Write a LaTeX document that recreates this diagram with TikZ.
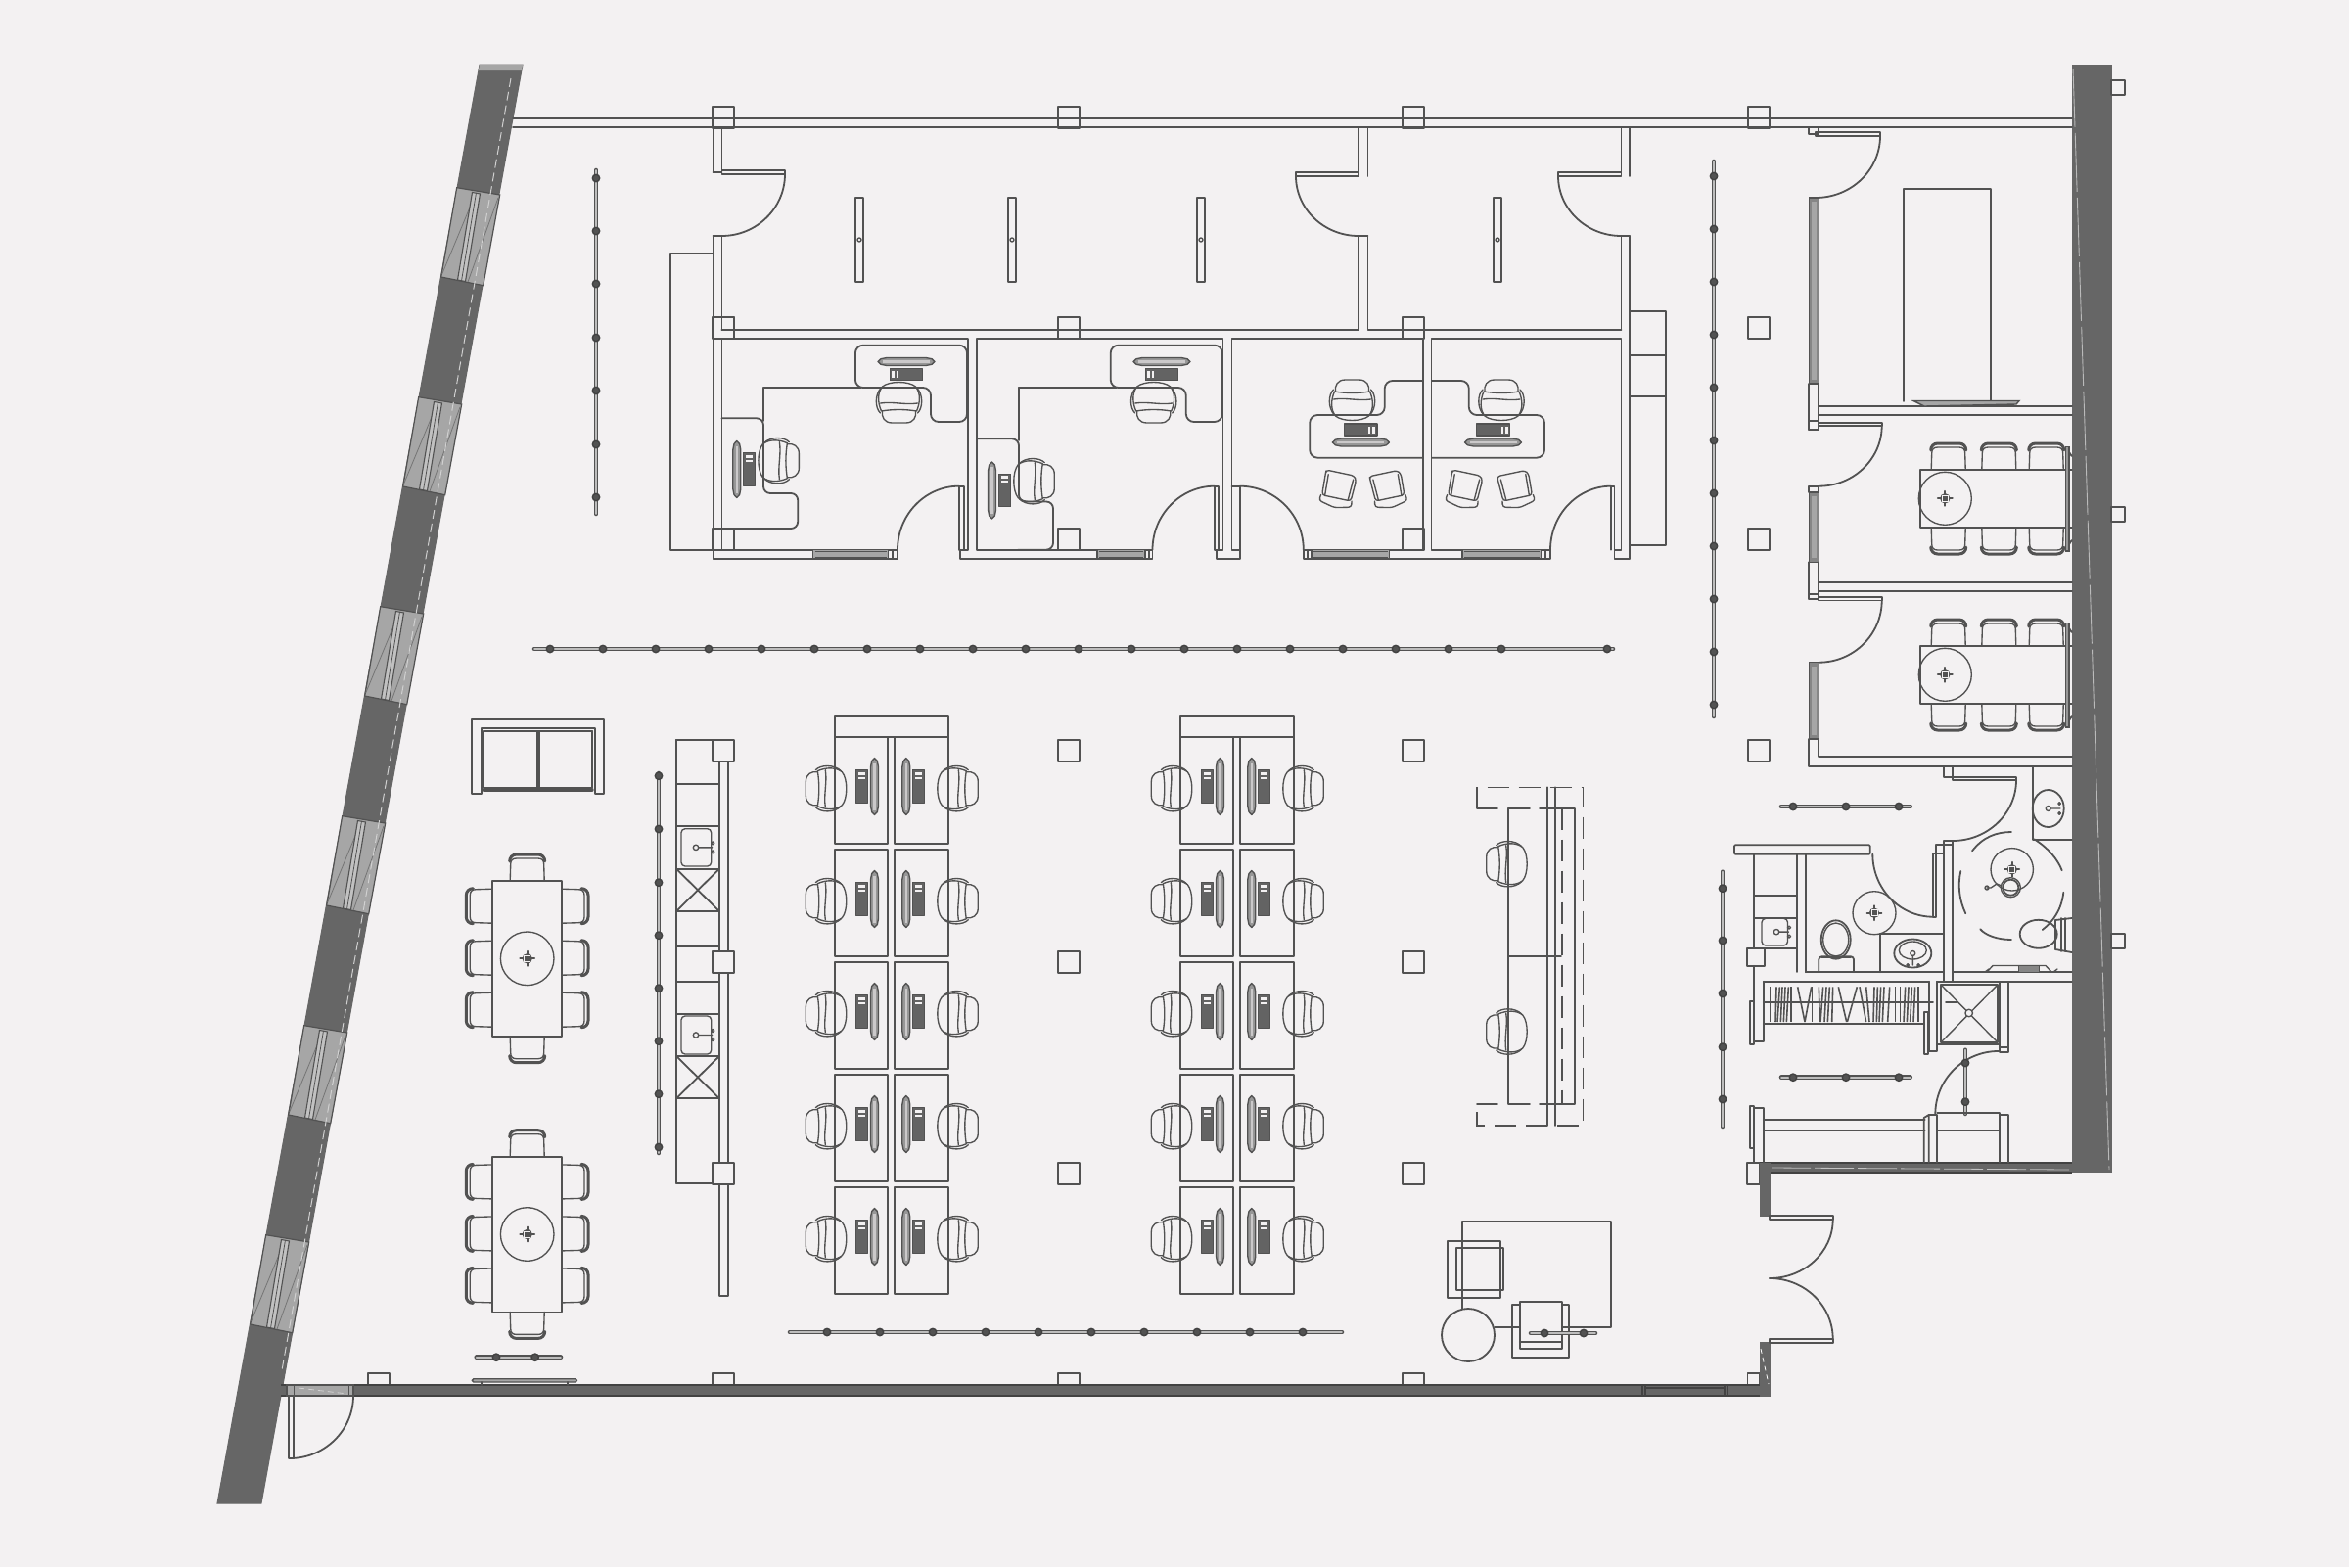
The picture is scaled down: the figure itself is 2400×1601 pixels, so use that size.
\documentclass[tikz,border=0pt]{standalone}
\definecolor{bgc}{HTML}{F3F1F2}
\definecolor{lnc}{HTML}{525252}
\definecolor{wallc}{HTML}{666666}
\definecolor{glassc}{HTML}{A6A6A6}
\definecolor{trackc}{HTML}{BDBDBD}
\tikzset{
  l/.style={draw=lnc,line width=1.8pt,line join=round,line cap=round},
  lt/.style={draw=lnc,line width=1.35pt,line join=round,line cap=round},
  hvy/.style={draw=lnc,line width=3.2pt,line cap=round},
  wallf/.style={fill=wallc,draw=wallc,line width=1pt},
  glass/.style={fill=glassc,draw=lnc,line width=1.2pt},
  gap/.style={draw=white!70!wallc,line width=1pt,dash pattern=on 9pt off 5pt}
}
\newcommand{\arcV}[4]{\draw[l] (#1,#2) .. controls (#1,{#2+.55*(#4-#2)}) and ({#3+.55*(#1-#3)},#4) .. (#3,#4);}
\newcommand{\ofchair}[3]{\begin{scope}[shift={(#1,#2)},rotate=#3]
  \draw[lt] (-9,-17) .. controls (-15,-18) and (-21,-15) .. (-21,-7) -- (-21,7) .. controls (-21,15) and (-15,18) .. (-9,17);
  \draw[lt] (-9,-18) .. controls (0,-22) and (10,-22) .. (16,-17) .. controls (22,-10) and (22,10) .. (16,17) .. controls (10,22) and (0,22) .. (-9,18) .. controls (-7,6) and (-7,-6) .. cycle;
  \draw[lt] (-1,-19) .. controls (1,-6) and (-3,6) .. (-1,19);
  \draw[lt] (-11,-19) .. controls (-6,-24.5) and (8,-25) .. (15,-18);
  \draw[lt] (-11,19) .. controls (-6,24.5) and (8,25) .. (15,18);
\end{scope}}
\newcommand{\wkst}[3]{\begin{scope}[shift={(#1,#2)},#3]
  \draw[lt,fill=lnc!60] (0,-29) -- (2.8,-26) -- (4,-20) -- (4,20) -- (2.8,26) -- (0,29) -- (-2.8,26) -- (-4,20) -- (-4,-20) -- (-2.8,-26) -- cycle;
  \fill[bgc!75!lnc] (-1.2,-24) rectangle (1.2,24);
  \draw[lt,fill=lnc!90] (-19,-16.7) rectangle (-7,16.7);
  \fill[bgc] (-16.5,-15) rectangle (-9.5,-12);
  \fill[bgc] (-16.5,-10) rectangle (-9.5,-8);
\end{scope}}
\newcommand{\dchair}[3]{\begin{scope}[shift={(#1,#2)},rotate=#3]
  \draw[lt] (0,-17.5) -- (17,-17) .. controls (21,-17) and (23,-15) .. (23,-11) -- (23,11) .. controls (23,15) and (21,17) .. (17,17) -- (0,17.5);
  \draw[draw=lnc,line width=3pt,line cap=round] (20,-18) .. controls (24,-18) and (27,-15) .. (27,-11) -- (27,11) .. controls (27,15) and (24,18) .. (20,18);
\end{scope}}
\newcommand{\gchair}[3]{\begin{scope}[shift={(#1,#2)},rotate=#3]
  \draw[lt,rounded corners=3] (-16,-18) -- (13,-18) -- (16,-14) -- (15,8) -- (-15,8) -- (-16,-14) -- cycle;
  \draw[lt] (-13,-14) -- (-12,8) (13,-14) -- (12,8);
  \draw[lt,rounded corners=3] (-16,8) -- (-17,14) -- (0,18) -- (17,14) -- (16,8);
\end{scope}}
\newcommand{\lamp}[3]{\begin{scope}[shift={(#1,#2)}]
  \draw[lt] (0,0) circle [radius=#3];
  \fill[lnc] (0,0) circle [radius=5.2];
  \draw[l] (-7.5,0) -- (7.5,0) (0,-7.5) -- (0,7.5);
  \draw[draw=bgc,line width=.7pt] (-3,-3) rectangle (3,3);
\end{scope}}
\newcommand{\trackdot}[2]{\draw[draw=lnc!80!black,fill=lnc,line width=1.4pt] (#1,#2) circle [radius=3.7];}
\newcommand{\htrack}[4]{\draw[draw=lnc,line width=4.6pt,line cap=round] (#2,#1) -- (#3,#1);
  \draw[draw=trackc,line width=1.8pt,line cap=round] (#2,#1) -- (#3,#1);
  \foreach \q in {#4} {\trackdot{\q}{#1}}}
\newcommand{\vtrack}[4]{\draw[draw=lnc,line width=4.6pt,line cap=round] (#1,#2) -- (#1,#3);
  \draw[draw=trackc,line width=1.8pt,line cap=round] (#1,#2) -- (#1,#3);
  \foreach \q in {#4} {\trackdot{#1}{\q}}}
\newcommand{\ksink}[4]{\draw[lt,rounded corners=4] (#1,#2) rectangle (#3,#4);
  \draw[lt] ({#1+15},{(#2+#4)/2}) circle [radius=2.7] ({#1+18},{(#2+#4)/2}) -- ({#3+1},{(#2+#4)/2});
  \draw[lt] ({#3+1.5},{(#2+#4)/2-4.5}) circle [radius=1.6] ({#3+1.5},{(#2+#4)/2+4.5}) circle [radius=1.6];}
\newcommand{\glasspart}[1]{\draw[l] (#1,202) rectangle ({#1+8},288);
  \draw[lt,fill=bgc] ({#1+4},245) circle [radius=2];}
\begin{document}
\begin{tikzpicture}[x=1pt,y=-1pt]
\useasboundingbox (0,0) rectangle (2400,1601);
\fill[bgc] (0,0) rectangle (2400,1601);

% ---- columns
\foreach \cx/\cy in {739/119.7,1092/119.7,1444/119.7,1797/119.7,1092/335,1444/335,1797/335,739/335,739/551,1092/551,1444/551,1797/551,1092/767,1444/767,1092/983,1444/983,1092/1199,1444/1199}
  \draw[l] ({\cx-11},{\cy-11}) rectangle ({\cx+11},{\cy+11});
\draw[l] (1786,756) rectangle (1808,778);
\draw[l] (375.7,1403) rectangle (397.7,1425);
\foreach \cx in {739,1092,1444}
  \draw[l] ({\cx-11},1403) rectangle ({\cx+11},1425);
\draw[l] (1785.5,1403) rectangle (1798,1425);
\draw[l] (1785,1188) rectangle (1798,1210);

% ---- outer walls
\draw[wallf] (490,66) -- (534,66) -- (267,1536) -- (222,1536) -- cycle;
\fill[glassc] (490,66) -- (534,66) -- (533,72) -- (489,72) -- cycle;
\foreach \k in {0,...,5} {
  \begin{scope}[shift={({39*\k},{-214*\k})}]
  \draw[glass] (271.7,1261.7) -- (315.7,1269) -- (298.7,1361.7) -- (255.7,1353) -- cycle;
  \draw[draw=lnc!80,line width=.8pt] (256.7,1350) -- (290,1270) (314,1272) -- (283,1358);
  \draw[draw=lnc,line width=1.1pt,fill=glassc!70!white] (287.5,1266.5) -- (295.5,1268) -- (280.5,1357.5) -- (272.5,1356) -- cycle;
  \draw[draw=lnc,line width=.8pt] (291.5,1267) -- (276.5,1357);
  \end{scope}
}
\draw[gap] (522,80) -- (288,1400);

\draw[wallf] (2117,66) rectangle (2157,1197.7);
\draw[draw=white!55!wallc,line width=.9pt,dash pattern=on 60pt off 6pt] (2118,70) -- (2155,1195);
\foreach \wy in {82,518,954}
  \draw[l] (2157,\wy) rectangle (2171,{\wy+15});

% south wall
\fill[wallc] (287,1415) rectangle (1808,1426);
\draw[draw=lnc!80!black,line width=1.8pt] (287,1415) -- (1798,1415) (287,1426) -- (1808,1426);
\draw[glass] (293,1415) rectangle (361,1426);
\draw[draw=lnc,line width=1pt] (300,1415) -- (300,1426) (356,1415) -- (356,1426);
\draw[draw=white!70!wallc,line width=.8pt,dash pattern=on 6pt off 4pt] (305,1418) -- (355,1424);
\draw[draw=lnc!80!black,line width=1.2pt] (1678,1415) -- (1678,1426) (1681,1415) -- (1681,1426) (1762,1415) -- (1762,1426) (1765,1415) -- (1765,1426);
\draw[draw=lnc!80!black,line width=1.2pt] (1681,1418) -- (1762,1418);
\draw[wallf] (1798,1371.7) rectangle (1808,1426);
\draw[draw=white,line width=.8pt,dash pattern=on 5pt off 4pt] (1799,1378) -- (1807,1414);
\fill[wallc] (1798,1188) rectangle (2117,1197.7);
\draw[draw=lnc!80!black,line width=1.6pt] (1798,1188) -- (2117,1188) (1798,1197.7) -- (2117,1197.7);
\draw[draw=white!60!wallc,line width=.8pt,dash pattern=on 40pt off 4pt] (1810,1193) -- (2117,1195);
\draw[wallf] (1798,1188) rectangle (1808,1242);

% south door
\draw[l] (295,1426) rectangle (300,1490);
\arcV{361}{1426}{296}{1490}

% entrance
\draw[l] (1808,1242) rectangle (1872.7,1246);
\draw[l] (1808,1368) rectangle (1872.7,1371.7);
\arcV{1872.7}{1246}{1808}{1306}
\arcV{1872.7}{1368}{1808}{1306}

% north glazing line
\draw[l] (524,121) -- (2117,121) (524,130) -- (2117,130);

% ---- upper rooms
\draw[l] (728.5,130) -- (728.5,176) (737.4,130) -- (737.4,174);
\draw[l] (728.5,241) -- (728.5,346) (737.4,241) -- (737.4,336.7);
\draw[l] (737.4,174) rectangle (802,178);
\draw[l] (728.5,176) -- (737.4,176);
\arcV{802}{178}{737.4}{241}
\draw[l] (728.5,241) -- (737.4,241);
\draw[l] (1388,130) -- (1388,176) (1397.5,130) -- (1397.5,180);
\draw[l] (1324,176) rectangle (1388,180);
\arcV{1324}{180}{1388}{241}
\draw[l] (1388,241) -- (1388,336.7) -- (737.4,336.7);
\draw[l] (1397.5,241) -- (1397.5,336.7) -- (1656.4,336.7);
\draw[l] (1388,241) -- (1397.5,241);
\draw[l] (1656.4,130) -- (1656.4,176) (1665,130) -- (1665,180);
\draw[l] (1592,176) rectangle (1656.4,180);
\arcV{1592}{180}{1656.4}{241}
\draw[l] (1656.4,241) -- (1656.4,336.7) (1665,241) -- (1665,570.7);
\draw[l] (1656.4,241) -- (1665,241);
\glasspart{874}
\glasspart{1030}
\glasspart{1223}
\glasspart{1526}

% storage left & right
\draw[l] (728.5,259) -- (684.7,259) -- (684.7,561.7) -- (728.5,561.7);
\draw[l] (1665,318) -- (1702,318) -- (1702,556.7) -- (1665,556.7) (1665,362.7) -- (1702,362.7) (1665,405) -- (1702,405);

% ---- offices
\draw[l] (728.5,346) -- (728.5,570.7) -- (917,570.7) -- (917,561.7) -- (737.4,561.7) -- (737.4,346) -- (989.3,346) -- (989.3,561.7) -- (979.7,561.7) -- (979.7,496.7) -- (985,496.7) -- (985,561.7);
\draw[l] (728.5,346) -- (737.4,346);
\draw[l] (981,561.7) -- (981,570.7) -- (1177.5,570.7) -- (1177.5,561.7) -- (998.2,561.7) -- (998.2,346) -- (1249.5,346) -- (1249.5,561.7) -- (1241,561.7) -- (1241,496.7) -- (1245,496.7) -- (1245,561.7);
\draw[l] (1243,561.7) -- (1243,570.7) -- (1266.7,570.7) -- (1266.7,496.7) -- (1258.5,496.7);
\draw[l] (1266.7,561.7) -- (1258.5,561.7) -- (1258.5,346) -- (1453.6,346) -- (1453.6,561.7) -- (1331.8,561.7) -- (1331.8,570.7) -- (1584,570.7) -- (1584,561.7) -- (1462.5,561.7) -- (1462.5,346) -- (1656.4,346) -- (1656.4,561.7) -- (1649.4,561.7) -- (1649.4,570.7) -- (1665,570.7);
\draw[l] (1649.4,561.7) -- (1649.4,496.7) -- (1646,496.7) -- (1646,561.7);
\arcV{917}{561.7}{979.7}{496.7}
\arcV{1177.5}{561.7}{1241}{496.7}
\arcV{1331.8}{561.7}{1266.7}{496.7}
\arcV{1584}{561.7}{1646}{496.7}
\foreach \xa/\xb in {830.5/907.7,1121/1170,1340/1419.8,1494/1574.7} {
  \draw[glass] (\xa,561.7) rectangle (\xb,570.7);
  \draw[draw=lnc,line width=1pt] ({\xa+2},563) -- ({\xb-2},563) ({\xa+2},569) -- ({\xb-2},569);
}
\foreach \xa/\xb in {907.7/917,1170/1177.5,1331.8/1340,1574.7/1584} {
  \draw[l] ({(\xa+\xb)/2},561.7) -- ({(\xa+\xb)/2},570.7);
}
\draw[l] (750,324) -- (750,346) (750,540) -- (750,561.7);

% office desks
\foreach \dx in {0,260.8} {
\begin{scope}[shift={(\dx,0)}]
\draw[l,rounded corners=8] (873.9,352.7) -- (873.9,396) -- (951,396) -- (951,431) -- (988,431) -- (988,352.7) -- cycle;
\draw[l] (780,396) -- (880,396);
\end{scope}}
\draw[l,rounded corners=7] (737.4,427.3) -- (780,427.3) -- (780,504) -- (815.2,504) -- (815.2,540) -- (728.5,540);
\draw[l] (780,396) -- (780,430);
\draw[l,rounded corners=7] (998.2,448.3) -- (1041,448.3) -- (1041,512.5) -- (1076,512.5) -- (1076,561.7) -- (1040,561.7);
\draw[l] (1041,396) -- (1041,450);
\draw[l,rounded corners=8] (1453,389) -- (1414.7,389) -- (1414.7,424) -- (1338.2,424) -- (1338.2,467.7) -- (1453,467.7);
\draw[l,rounded corners=8] (1463,389) -- (1500.8,389) -- (1500.8,424) -- (1578,424) -- (1578,467.7) -- (1463,467.7);
\wkst{926}{369.5}{rotate=90}
\wkst{1187}{369.5}{rotate=90}
\wkst{752.8}{479.5}{xscale=-1}
\wkst{1013.5}{501}{xscale=-1}
\wkst{1390.4}{452}{rotate=270}
\wkst{1525.5}{452}{rotate=270}
\ofchair{918.5}{411}{90}
\ofchair{1178.7}{411}{90}
\ofchair{795.4}{470.7}{180}
\ofchair{1056.3}{491.7}{180}
\ofchair{1381.5}{409}{270}
\ofchair{1534}{409}{270}
\gchair{1367}{501}{-12}
\gchair{1418.5}{501}{12}
\gchair{1496}{501}{-12}
\gchair{1549}{501}{12}

% ---- light tracks
\vtrack{609}{174}{525}{182,236,290,345,399,454,508}
\htrack{663}{546}{1648}{562,616,670,724,778,832,886,940,994,1048,1102,1156,1210,1264,1318,1372,1426,1480,1534,1642}
\vtrack{1751}{165}{732}{180,234,288,342,396,450,504,558,612,666,720}
\vtrack{673}{790}{1178}{792.7,847,901.7,955.7,1009.7,1063.7,1117.7,1172}
\htrack{1361}{807}{1371}{845,899,953,1007,1061,1115,1169,1223,1277,1331}
\htrack{1386.7}{486.7}{573}{507,546.7}
\htrack{824}{1820}{1951.7}{1832,1886,1940}
\htrack{1100.7}{1820}{1951.7}{1832,1886,1940}
\vtrack{1760}{890.7}{1151}{907.7,961,1015,1069.7,1123}

% ---- sofa
\draw[l] (482.3,810.7) -- (482.3,735) -- (616.7,735) -- (616.7,810.7) -- (607.7,810.7) -- (607.7,744) -- (491.7,744) -- (491.7,810.7) -- cycle;
\draw[l] (494.3,746.7) rectangle (549,805);
\draw[l] (550.7,746.7) rectangle (605,805);
\draw[hvy] (494.3,807) -- (605,807);
\draw[hvy,line width=2pt] (549.8,747) -- (549.8,805) (494.3,746.5) -- (605,746.5);

% ---- dining tables
\foreach \ty in {0,281.7} {
\begin{scope}[shift={(0,\ty)}]
\draw[l] (503.3,900) rectangle (574,1058.7);
\lamp{538.7}{979.3}{27.3}
\foreach \cy in {925.7,978.7,1031.7} {\dchair{574}{\cy}{0}\dchair{503.3}{\cy}{180}}
\dchair{538.7}{900}{90}
\dchair{538.7}{1058.7}{270}
\end{scope}}
% bottom-left bench
\draw[draw=lnc,fill=glassc,line width=1.4pt,rounded corners=1.5] (482.3,1408.7) rectangle (589.3,1412);
\draw[l] (492,1412) -- (492,1415) (580,1412) -- (580,1415);

% ---- kitchen
\draw[l] (735,778) -- (735,1324) -- (744,1324) -- (744,778);
\draw[l] (691,1209) -- (691,755.7) -- (729,755.7);
\draw[hvy,line width=2.4pt] (691,755.7) -- (729,755.7);
\draw[l] (691,1209) -- (735,1209);
\foreach \ky in {801,844.3,887.7,931,966.7,1002.7,1035.7,1079,1122.3}
  \draw[l] (691,\ky) -- (735,\ky);
\foreach \ky in {887.7,1079} \draw[l] (691,\ky) -- (735,{\ky+43.3}) (735,\ky) -- (691,{\ky+43.3});
\ksink{696}{846.7}{726.7}{885}
\ksink{696}{1038}{726.7}{1077}
\foreach \cy in {767,983,1199}
  \draw[l,fill=bgc] (728,{\cy-11}) rectangle (750,{\cy+11});

% ---- workstations
\foreach \bx in {0,353} {
\begin{scope}[shift={(\bx,0)}]
\draw[l] (852.7,731.7) rectangle (968.7,753.3);
\foreach \r in {0,...,4} {
\begin{scope}[shift={(0,{115*\r})}]
\draw[l] (852.7,753.3) rectangle (907.3,861.7);
\draw[l] (914.3,753.3) rectangle (968.7,861.7);
\wkst{893.5}{803.5}{xscale=1}
\wkst{925.8}{803.5}{xscale=-1}
\ofchair{844.3}{805.7}{0}
\ofchair{978.3}{805.7}{180}
\end{scope}}
\end{scope}}

% ---- east bench (dashed)
\begin{scope}
\tikzset{dsh/.style={draw=lnc,line width=1.6pt,dash pattern=on 22pt off 10pt}}
\draw[dsh] (1509,825.7) -- (1509,804.3) -- (1617.3,804.3) -- (1617.3,1150) -- (1509,1150) -- (1509,1128.3);
\draw[l] (1509,825.7) -- (1530,825.7) (1509,1128.3) -- (1530,1128.3);
\draw[dsh] (1595.7,825.7) -- (1595.7,1128.3);
\draw[l] (1541,825.7) -- (1563,825.7) (1573,825.7) -- (1609.3,825.7) -- (1609.3,1128.3) -- (1573,1128.3) (1563,1128.3) -- (1541,1128.3) -- (1541,825.7);
\draw[l] (1581,804.3) -- (1581,1150) (1588.7,804.3) -- (1588.7,1150);
\draw[l] (1541,977.3) -- (1595,977.3);
\ofchair{1539.7}{882.7}{0}
\ofchair{1539.7}{1054}{0}
\end{scope}

% ---- reception
\draw[l] (1494,1336.7) -- (1494,1248) -- (1645.7,1248) -- (1645.7,1356) -- (1527,1356);
\draw[l] (1500,1364) circle [radius=27];
\draw[l] (1479,1267.7) rectangle (1533,1326);
\draw[l] (1488,1275) rectangle (1535.7,1318);
\draw[l] (1545,1332.7) rectangle (1603,1386.7);
\draw[l,fill=bgc] (1552.7,1330) rectangle (1595.7,1378);
\draw[l] (1552.7,1370.7) -- (1595.7,1370.7);
\htrack{1362}{1564}{1630}{1578,1618}

% ---- meeting rooms
\draw[l] (1848.3,130) -- (1848.3,137) -- (1858.3,137) -- (1858.3,130);
\draw[l] (1855,135) rectangle (1921,139);
\arcV{1921}{139}{1855}{202}
\foreach \wa/\wb in {202/392,503.3/574.3,676.7/755} {
  \draw[draw=lnc,fill=lnc!70,line width=1.5pt] (1848.3,\wa) rectangle (1858.3,\wb);
  \fill[glassc] (1851,{\wa+4}) rectangle (1856,{\wb-4});
}
\draw[l] (1848.3,392) -- (1848.3,439) (1858.3,392) -- (1858.3,432);
\draw[l] (1848.3,574.3) -- (1848.3,611.7) (1858.3,574.3) -- (1858.3,610);
\draw[l] (1848.3,755) -- (1848.3,783) -- (2117,783);
\draw[l] (1858.3,755) -- (1858.3,773) -- (2117,773);
\draw[l] (1858.3,415) -- (2117,415) (1858.3,424.3) -- (2117,424.3);
\draw[l] (1858.3,595) -- (2117,595) (1858.3,604) -- (2117,604);
\draw[l] (1848.3,430) rectangle (1858.3,439);
\draw[l] (1848.3,496.7) rectangle (1858.3,503.3);
\draw[l] (1848.3,607) rectangle (1858.3,611.7);
\draw[l] (1858.3,610) rectangle (1922.7,613.5);
\draw[l] (1858.3,432) rectangle (1922.7,435);
\arcV{1922.7}{435}{1858.3}{496.7}
\arcV{1922.7}{613.5}{1858.3}{676.7}
\draw[l] (1945,410) -- (1945,193) -- (2034,193) -- (2034,410);
\draw[draw=lnc,fill=glassc,line width=1.4pt] (1955,409.5) -- (2063,409.5) -- (2060,413) -- (1966,415) -- cycle;
\foreach \my in {0,180} {
\begin{scope}[shift={(0,\my)}]
\foreach \cx in {1990.7,2042.3,2090.7} {\dchair{\cx}{480}{90}\dchair{\cx}{539}{270}}
\draw[l] (2116.7,480) -- (1962.3,480) -- (1962.3,539) -- (2116.7,539);
\lamp{1987.3}{509.3}{27}
\draw[draw=lnc,fill=lnc!60,line width=1.5pt] (2110.5,456.7) rectangle (2114,563);
\draw[l] (2114,462) -- (2116.7,466) (2114,556) -- (2116.7,552);
\end{scope}}

% ---- WC block
\draw[l] (2076.7,783) -- (2076.7,858.3) -- (2116.7,858.3);
\draw[l] (2092.7,826) ellipse [x radius=16,y radius=19];
\draw[lt] (2092.7,826) circle [radius=2.5] (2096,826) -- (2105,826);
\draw[lt] (2104,821) circle [radius=1.3] (2104,831) circle [radius=1.3];
\draw[l] (1985.7,783) -- (1985.7,794) -- (1995,794) -- (1995,783);
\draw[l] (1995,794) rectangle (2060,797);
\arcV{2060}{797}{1995}{859}
\draw[l] (1985.7,859) rectangle (1995,1003);
\draw[l] (1985.7,863) -- (1995,863);
\draw[l] (2055,850) .. controls (2040,850) and (2026,855) .. (2015,869.3);
\draw[l] (2078.3,857.3) .. controls (2092,866) and (2102,877) .. (2106.7,889.3);
\draw[l] (2108.3,911.7) .. controls (2106,930) and (2098,941) .. (2086.7,950);
\draw[l] (2055,960) .. controls (2040,960) and (2028,955) .. (2023.3,949.3);
\draw[l] (2008.3,933.3) .. controls (2002,920) and (2000,905) .. (2003.3,890);
\lamp{2055.7}{888.3}{21.7}
\draw[l] (2054.3,906.7) circle [radius=8] ;
\draw[lt] (2054.3,906.7) circle [radius=10];
\draw[lt] (2045,905) -- (2040,903) -- (2034,907) -- (2030,907) (2030,907) circle [radius=2];
\draw[l] (2082.7,954.3) ellipse [x radius=19,y radius=14.5];
\draw[l] (2100,940) -- (2116.7,938) (2100,970) -- (2116.7,973);
\draw[l] (2100,940) -- (2100,970) (2106,938) -- (2106,972) (2110,938) -- (2110,972);
\draw[l] (1995,993.3) -- (2116.7,993.3) (1995,1002.7) -- (2116.7,1002.7);
\draw[lt] (2030,993) -- (2036,986.5) -- (2090,986.5) -- (2096,993);
\draw[draw=lnc,fill=lnc!70,line width=1pt] (2062,986.5) rectangle (2083,993);
\foreach \q in {2028,2098} \draw[lt] (\q,993) -- ({\q+4},990);

\draw[l] (1845,993.3) -- (1985.7,993.3) (1801.7,1002.7) -- (1971,1002.7);
\draw[l] (1836,872.7) -- (1836,993) (1845,872.7) -- (1845,993.3);
\draw[l,rounded corners=1] (1772,863.3) rectangle (1910.7,872.7);
\draw[l] (1792.3,872.7) -- (1792.3,969.3) -- (1836,969.3);
\draw[l] (1792.3,915) -- (1836,915) (1792.3,937.7) -- (1836,937.7);
\ksink{1800}{938.3}{1826.5}{966}
\draw[l,fill=bgc] (1785,969.3) rectangle (1802.7,986.7);
\draw[l] (1792.3,986.7) -- (1792.3,1023);
\draw[l] (1978.3,863) rectangle (1985.7,871.7);
\draw[l] (1975,871.7) rectangle (1978.3,936.7);
\arcV{1913.3}{872.7}{1975}{936.7}
\lamp{1915}{932.7}{22}
\draw[l] (1921.7,954) -- (1985.7,954) (1921,954) -- (1921,993.3);
\draw[l] (1954.3,974) ellipse [x radius=19,y radius=14.5];
\draw[lt] (1954.3,971) ellipse [x radius=14,y radius=9];
\draw[lt] (1954.3,974) circle [radius=2.5] (1954.3,976) -- (1954.3,986);
\draw[lt] (1949,986) circle [radius=1.3] (1960,986) circle [radius=1.3];
\draw[l] (1875.7,960) ellipse [x radius=15,y radius=19.7];
\draw[lt] (1875.7,960) ellipse [x radius=13,y radius=17];
\draw[l,rounded corners=3] (1858.3,993.3) -- (1858.3,977.3) -- (1894,977.3) -- (1894,993.3);
\draw[lt] (1861,978) -- (1891,978);

% wardrobe
\draw[l] (1801.7,1002.7) -- (1801.7,1064) -- (1792.3,1064) -- (1792.3,1023);
\draw[l] (1787.7,1023.3) rectangle (1792.3,1066.7);
\draw[l] (1801.7,1046) -- (1965.7,1046);
\draw[l] (1801.7,1024.3) -- (1975,1024.3);
\draw[l] (1988,1024.3) -- (2000,1024.3);
\foreach \ha/\hb in {205/205,225/222,235/228,243/238,252/247,262/256,270/270,290/312,332/312,335/335,355/358,368/360,378/372,388/382,398/395,415/440,472/442,480/500,500/510,525/522,535/532,545/540,555/550,572/566,590/590,605/605,620/615,630/625,640/635,650/645,660/660}
  \draw[draw=lnc,line width=1.6pt] ({1740+\ha/3},1008.3) -- ({1740+\hb/3},1044);
\draw[l] (1971,1002.7) -- (1971,1074) -- (1979.3,1074) -- (1979.3,1002.7);
\draw[l] (1965.7,1034) -- (1965.7,1077) -- (1970,1077) -- (1970,1034) -- cycle;

% shower
\draw[l] (1979.3,1003.3) rectangle (2042.7,1066.7);
\draw[lt] (1983,1006) rectangle (2041,1065);
\draw[lt] (1983,1006) -- (2041,1065) (2041,1006) -- (1983,1065);
\draw[lt,fill=bgc] (2011.7,1035) circle [radius=3.8];
\draw[l] (2042.7,1003) -- (2051.7,1003) -- (2051.7,1075) -- (2042.7,1075) -- (2042.7,1066.7);
\draw[l] (2042.7,1070) -- (2051.7,1070);
\arcV{1977.3}{1138.3}{2041.7}{1074}
\vtrack{2008}{1072.7}{1138}{1086,1125.7}

% lower cabinet
\draw[l] (1801.7,1144.3) -- (1966.7,1144.3) (1801.7,1155) -- (1966.7,1155);
\draw[l] (1801.7,1187.7) -- (1801.7,1131.7) -- (1792.3,1131.7) -- (1792.3,1187.7);
\draw[l] (1787.7,1130) rectangle (1791.7,1173);
\draw[l] (1965.7,1187.7) -- (1965.7,1142) -- (1970.7,1139) -- (1970.7,1187.7);
\draw[l] (1970.7,1139) -- (1979.3,1139) -- (1979.3,1187.7);
\draw[l] (1979.3,1136.7) -- (2042.7,1136.7) -- (2042.7,1187.7) (1979.3,1155) -- (2042.7,1155);
\draw[l] (2042.7,1139) -- (2051.7,1139) -- (2051.7,1187.7);
\end{tikzpicture}
\end{document}
